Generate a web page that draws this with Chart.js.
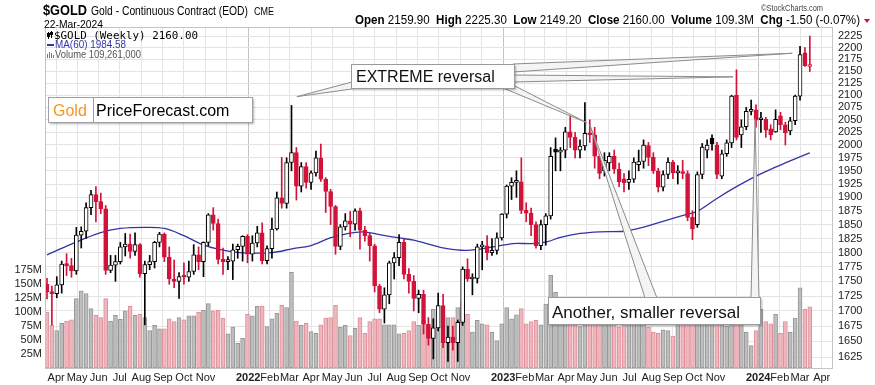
<!DOCTYPE html>
<html>
<head>
<meta charset="utf-8">
<script src="https://cdn.jsdelivr.net/npm/chart.js"></script>
<style>
html, body { margin: 0; padding: 0; background: #fff; }
canvas { display: block; }
</style>
</head>
<body>
<canvas id="chart" width="875" height="385"></canvas>
<script>
// weekly bars, index 0 = week ending 26-Mar-2021, last = 22-Mar-2024
const opens = [
  1745,1732,1729,1744,1780,1777,1768,1831,1838,1881,
  1905,1892,1879,1769,1778,1784,1810,1815,1802,1814,
  1763,1779,1784,1818,1833,1792,1754,1750,1758,1757,
  1767,1796,1784,1818,1868,1852,1788,1784,1785,1805,
  1811,1829,1797,1817,1835,1786,1807,1842,1899,1889,
  1966,1985,1921,1958,1928,1946,1975,1934,1911,1883,
  1811,1846,1857,1851,1875,1840,1830,1812,1742,1703,
  1727,1782,1791,1818,1762,1750,1721,1728,1678,1655,
  1672,1709,1648,1657,1648,1681,1771,1754,1755,1810,
  1812,1800,1804,1826,1869,1921,1928,1929,1876,1871,
  1850,1812,1850,1866,1992,1986,1990,2026,2015,1990,
  1998,2023,2020,1978,1950,1965,1978,1953,1935,1928,
  1934,1962,1968,1999,1976,1950,1919,1943,1967,1946,
  1948,1945,1863,1850,1943,1990,2013,2000,1940,1983,
  2004,2100,2020,2036,2067,2070,2050,2051,2032,2026,
  2058,2040,2028,2048,2098,2189,2159.9
];
const highs = [
  1755,1742,1758,1785,1798,1790,1845,1846,1890,1913,
  1920,1908,1885,1795,1795,1818,1834,1833,1835,1816,
  1785,1795,1820,1836,1835,1810,1787,1765,1782,1785,
  1814,1810,1819,1870,1881,1860,1808,1793,1815,1815,
  1830,1832,1830,1847,1853,1812,1862,1910,1976,1975,
  2079,1995,1966,1966,1950,1988,2002,1937,1915,1885,
  1850,1870,1874,1879,1880,1847,1835,1815,1745,1739,
  1785,1800,1832,1824,1772,1760,1735,1735,1689,1687,
  1730,1728,1675,1675,1685,1775,1789,1763,1815,1820,
  1830,1825,1835,1870,1923,1937,1950,1975,1890,1880,
  1855,1858,1870,1995,2014,1995,2035,2060,2025,2010,
  2085,2050,2035,1985,1985,1985,1990,1965,1945,1950,
  1975,1990,2010,2005,1985,1955,1950,1975,1970,1960,
  1970,1950,1875,1948,2003,2010,2020,2005,1990,2010,
  2100,2153,2050,2075,2090,2080,2065,2055,2040,2070,
  2065,2045,2055,2100,2203,2200,2225.3
];
const lows = [
  1720,1677,1722,1730,1760,1757,1762,1808,1825,1868,
  1855,1870,1762,1765,1750,1780,1794,1790,1795,1757,
  1677,1770,1773,1810,1784,1745,1739,1721,1745,1750,
  1762,1770,1758,1812,1840,1780,1762,1770,1753,1790,
  1785,1782,1785,1810,1780,1780,1790,1840,1880,1880,
  1950,1895,1910,1917,1915,1940,1930,1872,1850,1797,
  1805,1840,1828,1840,1806,1820,1785,1732,1697,1680,
  1712,1754,1777,1754,1730,1700,1697,1662,1644,1622,
  1667,1640,1618,1636,1618,1676,1750,1727,1747,1770,
  1787,1795,1797,1822,1862,1896,1900,1870,1855,1830,
  1808,1805,1813,1860,1950,1950,1975,1995,1975,1975,
  1990,2005,1955,1935,1940,1950,1945,1920,1910,1915,
  1928,1950,1955,1960,1945,1910,1912,1935,1935,1925,
  1935,1857,1823,1845,1935,1975,1990,1935,1935,1978,
  1995,2010,1995,2030,2060,2035,2025,2015,2010,2025,
  2030,2000,2020,2040,2090,2160,2149.2
];
const closes = [
  1732,1729,1744,1780,1777,1768,1831,1838,1881,1905,
  1892,1879,1769,1778,1784,1810,1815,1802,1814,1763,
  1779,1784,1818,1833,1792,1754,1750,1758,1757,1767,
  1796,1784,1818,1868,1852,1788,1784,1785,1805,1811,
  1829,1797,1817,1835,1786,1807,1842,1899,1889,1966,
  1985,1921,1958,1928,1946,1975,1934,1911,1883,1811,
  1846,1857,1851,1875,1840,1830,1812,1742,1703,1727,
  1782,1791,1818,1762,1750,1721,1728,1678,1655,1672,
  1709,1648,1657,1648,1681,1771,1754,1755,1810,1812,
  1800,1804,1826,1869,1921,1928,1929,1876,1871,1850,
  1812,1850,1866,1978,1986,1990,2026,2015,1990,1998,
  2023,2020,1978,1945,1970,1978,1953,1929,1927,1934,
  1967,1968,2000,1976,1950,1919,1943,1967,1946,1947,
  1945,1863,1842,1943,1996,2000,2002,1943,1983,2004,
  2098,2015,2036,2067,2070,2049,2051,2029,2020,2051,
  2040,2024,2048,2098,2185,2161.5,2160
];
// weekly volume, millions
const volumes = [
  100,76,67,80,84,86,124,138,133,106,
  94,90,124,84,94,87,102,110,94,96,
  90,67,76,70,70,88,83,90,86,93,
  93,100,103,115,102,103,89,61,73,44,
  53,96,93,110,110,74,88,98,112,108,
  171,84,76,80,65,62,77,89,90,112,
  73,76,58,71,90,62,83,88,88,77,
  77,77,61,62,67,83,76,85,73,105,
  111,96,90,90,108,117,96,64,85,79,
  77,64,49,79,108,88,95,106,79,83,
  85,77,114,166,135,100,110,95,90,74,
  115,92,98,95,88,79,90,73,85,79,
  88,85,90,73,64,62,68,67,57,90,
  95,120,105,115,110,95,88,100,85,75,
  110,125,100,64,40,67,105,83,79,96,
  62,83,64,89,143,105,109.261
];
// MA(60) at these weeks
const maWeeks  = [0,5,10.8,15,20,24,28,31.3,35,39.5,46,50.3,53.8,57.9,61,64.6,68,72,75,78,81.8,85.9,91.2,95.3,99,102.2,105,109,113,118,121,126,131,133,137,141,145,149,153,156];
const maValues = [1796,1815,1835,1843,1845,1843,1830,1816,1806,1800,1800,1807,1812,1826,1833,1837,1832,1826,1822,1815,1807,1804,1810,1816,1816,1819,1827,1834,1837,1838,1843,1856,1869,1874,1898,1920,1940,1957,1973,1984.58];

const priceTicks = [1625,1650,1675,1700,1725,1750,1775,1800,1825,1850,1875,1900,1925,1950,1975,2000,2025,2050,2075,2100,2125,2150,2175,2200,2225];
const volumeTicks = [25,50,75,100,125,150,175];
const monthTickWeeks = [1.86,6.14,10.57,14.86,19.29,23.71,28.0,32.43,36.71,41.14,45.57,49.57,54.0,58.29,62.71,67.0,71.43,75.86,80.14,84.57,88.86,93.29,97.71,101.71,106.14,110.43,114.86,119.14,123.57,128.0,132.29,136.71,141.0,145.43,149.86,154.0,158.43];
const monthTickLabels = ['Apr','May','Jun','Jul','Aug','Sep','Oct','Nov','','2022','Feb','Mar','Apr','May','Jun','Jul','Aug','Sep','Oct','Nov','','2023','Feb','Mar','Apr','May','Jun','Jul','Aug','Sep','Oct','Nov','','2024','Feb','Mar','Apr'];

const RED = '#d3123a';
const FONT = 'Liberation Sans, Arial, sans-serif';

const weeks = closes.map((c, i) => i);
const prevClose = i => i === 0 ? opens[0] : closes[i - 1];
const down = weeks.map(i => closes[i] < prevClose(i));
const candleColor = weeks.map(i => down[i] ? RED : '#000');
const bodyFill = weeks.map(i => closes[i] >= opens[i] ? '#fff' : candleColor[i]);
const isYear = i => /^\d{4}$/.test(monthTickLabels[i]);

// callouts: boxes are layout (px), tips are data points (week, price)
const callouts = [
  { box: [351, 64, 163, 24], text: 'EXTREME reversal', size: 16, tx: 356, ty: 82,
    pointers: [
      { base: [[352, 82], [359, 88]], tip: [51.1, 2097] },
      { base: [[513, 64], [513, 72]], tip: [152.4, 2188] },
      { base: [[513, 75], [513, 82]], tip: [140.3, 2138] },
      { base: [[503, 88], [513, 85]], tip: [110.4, 2044] }
    ] },
  { box: [548, 297, 212, 27], text: 'Another, smaller reversal', size: 17, tx: 552, ty: 318,
    pointers: [
      { base: [[645, 298], [657, 298]], tip: [111, 2040] },
      { base: [[751, 298], [759, 298]], tip: [144.8, 2052] }
    ] }
];

const overlay = {
  id: 'overlay',
  beforeDraw(chart) {
    const c = chart.ctx;
    c.save();
    c.fillStyle = '#fff';
    c.fillRect(0, 0, chart.width, chart.height);
    c.restore();
  },
  afterDraw(chart) {
    const c = chart.ctx, a = chart.chartArea;
    const xs = chart.scales.x, ys = chart.scales.y;
    c.save();

    // plot frame
    c.strokeStyle = '#c4c4c4';
    c.lineWidth = 1;
    c.strokeRect(a.left + 0.5, a.top + 0.5, a.right - a.left - 1, a.bottom - a.top);

    // header
    c.fillStyle = '#000';
    c.textBaseline = 'alphabetic';
    c.font = 'bold 14px ' + FONT;
    c.fillText('$GOLD', 43, 15, 44);
    c.font = '12px ' + FONT;
    c.fillText('Gold - Continuous Contract (EOD)', 91, 15, 157);
    c.font = '10px ' + FONT;
    c.fillText('CME', 254, 15, 20);
    c.font = '11px ' + FONT;
    c.fillText('22-Mar-2024', 44, 28, 59);
    c.fillStyle = '#444';
    c.font = '9px ' + FONT;
    c.fillText('\u00A9StockCharts.com', 761, 11, 62);

    const parts = [['Open', 1], [' 2159.90  ', 0], ['High', 1], [' 2225.30  ', 0], ['Low', 1], [' 2149.20  ', 0],
                   ['Close', 1], [' 2160.00  ', 0], ['Volume', 1], [' 109.3M  ', 0], ['Chg', 1], [' -1.50 (-0.07%)', 0]];
    let w = 0;
    parts.forEach(p => { c.font = (p[1] ? 'bold ' : '') + '12px ' + FONT; w += c.measureText(p[0]).width; });
    c.save();
    c.translate(355, 24);
    c.scale(505 / w, 1);
    let px = 0;
    c.fillStyle = '#000';
    parts.forEach(p => { c.font = (p[1] ? 'bold ' : '') + '12px ' + FONT; c.fillText(p[0], px, 0); px += c.measureText(p[0]).width; });
    c.restore();
    c.fillStyle = RED;
    c.beginPath();
    c.moveTo(864, 19); c.lineTo(870, 19); c.lineTo(867, 23); c.closePath();
    c.fill();

    // legend
    c.fillStyle = '#000';
    c.fillRect(48, 32, 1, 7); c.fillRect(47, 33, 3, 4);
    c.fillRect(51, 31, 1, 7); c.fillRect(50, 32, 3, 3);
    c.font = '11px DejaVu Sans Mono, monospace';
    c.fillText('$GOLD (Weekly) 2160.00', 54, 38.5, 144);
    c.fillStyle = '#3434a6';
    c.fillRect(47, 44, 7, 2);
    c.font = '10px ' + FONT;
    c.fillText('MA(60) 1984.58', 55, 48, 71);
    c.fillStyle = '#777';
    c.fillRect(47, 54, 1, 4); c.fillRect(49, 52, 1, 6); c.fillRect(51, 53, 1, 5); c.fillRect(53, 55, 1, 3);
    c.fillStyle = '#555';
    c.fillText('Volume 109,261,000', 55, 57.5, 86);

    // logo
    c.save();
    c.shadowColor = 'rgba(0,0,0,0.3)';
    c.shadowOffsetX = 2; c.shadowOffsetY = 2; c.shadowBlur = 2;
    c.fillStyle = '#fff';
    c.fillRect(48, 97, 204, 25);
    c.restore();
    c.strokeStyle = '#a0a0a0';
    c.strokeRect(48.5, 97.5, 204, 25);
    c.beginPath(); c.moveTo(93.5, 97.5); c.lineTo(93.5, 122.5); c.stroke();
    c.font = '16px ' + FONT;
    c.fillStyle = '#f7931e';
    c.fillText('Gold', 53, 116);
    c.fillStyle = '#000';
    c.fillText('PriceForecast.com', 96, 116);

    // callouts
    callouts.forEach(co => {
      co.pointers.forEach(p => {
        const tx = xs.getPixelForValue(p.tip[0]), ty = ys.getPixelForValue(p.tip[1]);
        c.beginPath();
        c.moveTo(p.base[0][0], p.base[0][1]);
        c.lineTo(tx, ty);
        c.lineTo(p.base[1][0], p.base[1][1]);
        c.closePath();
        c.fillStyle = '#f4f4f4';
        c.fill();
        c.strokeStyle = '#8c8c8c';
        c.lineWidth = 1;
        c.stroke();
      });
      const [bx, by, bw, bh] = co.box;
      c.save();
      c.shadowColor = 'rgba(0,0,0,0.3)';
      c.shadowOffsetX = 2; c.shadowOffsetY = 2; c.shadowBlur = 2;
      c.fillStyle = '#fff';
      c.fillRect(bx, by, bw, bh);
      c.restore();
      c.strokeStyle = '#9a9a9a';
      c.strokeRect(bx + 0.5, by + 0.5, bw, bh);
      c.fillStyle = '#111';
      c.font = co.size + 'px ' + FONT;
      c.fillText(co.text, co.tx, co.ty);
    });

    c.restore();
  }
};

new Chart(document.getElementById('chart'), {
  type: 'bar',
  data: {
    datasets: [
      {
        type: 'bar', yAxisID: 'yv', order: 4, grouped: false,
        data: weeks.map(i => ({ x: i, y: volumes[i] })),
        backgroundColor: weeks.map(i => down[i] ? '#f0b6bd' : '#bdbdbd'),
        borderColor: weeks.map(i => down[i] ? '#e08e99' : '#979797'),
        borderWidth: 1, borderSkipped: false, barThickness: 4
      },
      {
        type: 'line', yAxisID: 'y', order: 3,
        data: maWeeks.map((wk, k) => ({ x: wk, y: maValues[k] })),
        borderColor: '#3434a6', borderWidth: 1.3, pointRadius: 0, tension: 0.35, fill: false
      },
      {
        type: 'bar', yAxisID: 'y', order: 2, grouped: false,
        data: weeks.map(i => ({ x: i, y: [lows[i], highs[i]] })),
        backgroundColor: candleColor, borderWidth: 0, barThickness: 1
      },
      {
        type: 'bar', yAxisID: 'y', order: 1, grouped: false,
        data: weeks.map(i => ({ x: i, y: [opens[i], closes[i]] })),
        backgroundColor: bodyFill, borderColor: candleColor,
        borderWidth: 1, borderSkipped: false, barThickness: 4, minBarLength: 2
      }
    ]
  },
  options: {
    responsive: false,
    animation: false,
    devicePixelRatio: 1,
    layout: { padding: { top: 27, left: 0, right: 0, bottom: 0 } },
    plugins: { legend: { display: false }, tooltip: { enabled: false } },
    scales: {
      x: {
        type: 'linear', min: -0.41, max: 160.74, offset: false,
        afterBuildTicks: s => { s.ticks = monthTickWeeks.map(v => ({ value: v })); },
        afterFit: s => { s.height = 17; },
        grid: { offset: false, drawTicks: false, color: ctx => isYear(ctx.index) ? '#c4c4c4' : '#e4e4e4' },
        border: { display: false },
        ticks: {
          autoSkip: false, maxRotation: 0, padding: 3, color: '#222',
          font: ctx => ({ family: FONT, size: 11, weight: isYear(ctx.index) ? 'bold' : 'normal' }),
          callback: (v, i) => monthTickLabels[i]
        }
      },
      y: {
        type: 'logarithmic', position: 'right', min: 1607.6, max: 2245,
        afterBuildTicks: s => { s.ticks = priceTicks.map(v => ({ value: v })); },
        afterFit: s => { s.width = 42; },
        grid: { drawTicks: false, color: '#e4e4e4' },
        border: { display: false },
        ticks: { autoSkip: false, padding: 5, color: '#222', font: { family: FONT, size: 11 }, callback: v => String(v) }
      },
      yv: {
        type: 'linear', position: 'left', min: 0, max: 609,
        afterBuildTicks: s => { s.ticks = volumeTicks.map(v => ({ value: v })); },
        afterFit: s => { s.width = 45; },
        grid: { display: false, drawTicks: false },
        border: { display: false },
        ticks: { autoSkip: false, padding: 3, color: '#222', font: { family: FONT, size: 11 }, callback: v => v + 'M' }
      }
    }
  },
  plugins: [overlay]
});
</script>
</body>
</html>
